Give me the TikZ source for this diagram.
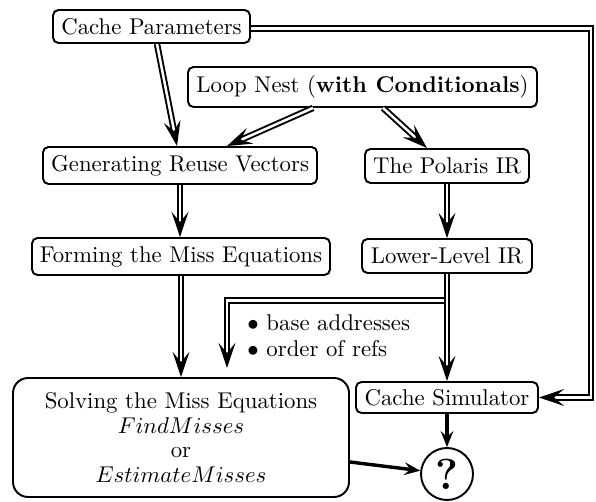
\documentclass[tikz,border=0pt]{standalone}
\usetikzlibrary{arrows.meta}
% one drawing unit
\def\pxu{0.4386pt}
\begin{document}
\begin{tikzpicture}[x=0.4386pt, y=-0.4386pt,
  box/.style={draw, line width=0.85pt, rounded corners=2.4pt, inner sep=0pt, align=center},
  dbl/.style={double, line width=0.85pt, double distance=1.1pt,
    -{Stealth[length=11pt,width=7.4pt,inset=4.4pt]}},
  sgl/.style={line width=1.5pt, -{Stealth[length=7pt,width=5.6pt,inset=2.6pt]}}]
\useasboundingbox (0,0) rectangle (596,502);

% boxes
\node[box, minimum width=197*\pxu, minimum height=33*\pxu] (cache) at (151.5,26.5) {Cache Parameters};
\node[box, minimum width=349*\pxu, minimum height=40*\pxu] (loop) at (362.5,87) {Loop Nest (\textbf{with Conditionals})};
\node[box, minimum width=274*\pxu, minimum height=37*\pxu] (gen) at (180,165.5) {Generating Reuse Vectors};
\node[box, minimum width=164*\pxu, minimum height=34*\pxu] (polaris) at (447,166) {The Polaris IR};
\node[box, minimum width=298*\pxu, minimum height=37*\pxu] (form) at (181,256.5) {Forming the Miss Equations};
\node[box, minimum width=170*\pxu, minimum height=34*\pxu] (lower) at (447,256) {Lower-Level IR};
\node[box, rounded corners=6.6pt, minimum width=336*\pxu, minimum height=119*\pxu,
  font=\fontsize{10pt}{10.9pt}\selectfont] (solve) at (181,437.5)
  {Solving the Miss Equations\\$FindMisses$\\or\\$EstimateMisses$};
\node[box, minimum width=182*\pxu, minimum height=31*\pxu] (sim) at (447,397.5) {Cache Simulator};
\node[draw, circle, line width=0.85pt, inner sep=0pt, minimum size=52*\pxu,
  font=\fontsize{19pt}{20pt}\bfseries] (q) at (447,474) {?};

% bullet list beside the branch
\node[anchor=west, align=left, inner sep=0pt,
  font=\fontsize{10pt}{11.4pt}\selectfont] (notes) at (247,336)
  {$\bullet$ base addresses\\$\bullet$ order of refs};

% helper points
\coordinate (rail) at (591,0);
\coordinate (tap) at (227,300.5);
\coordinate (drop) at (227,368);

% double arrows
\draw[dbl] ([xshift=5.5*\pxu]cache.south) -- ([xshift=-3*\pxu]gen.north);
\draw[dbl] ([xshift=-49.5*\pxu]loop.south) -- ([xshift=47*\pxu]gen.north);
\draw[dbl] ([xshift=20.5*\pxu]loop.south) -- ([xshift=-20*\pxu]polaris.north);
\draw[dbl] ([yshift=-2*\pxu]cache.east) -- ([yshift=-2*\pxu]cache.east -| rail) |- (sim.east);
\draw[dbl] (gen.south) -- (gen.south |- form.north);
\draw[dbl] (polaris) -- (lower);
\draw[dbl] (form.south) -- (form.south |- solve.north);
\draw[dbl] (lower.south) |- (tap) -- (drop);
\draw[dbl] (lower) -- (sim);

% plain arrows into the result
\draw[sgl] (sim) -- (q);
\draw[sgl] ([yshift=-24.5*\pxu]solve.east) -- (q);
\end{tikzpicture}
\end{document}
